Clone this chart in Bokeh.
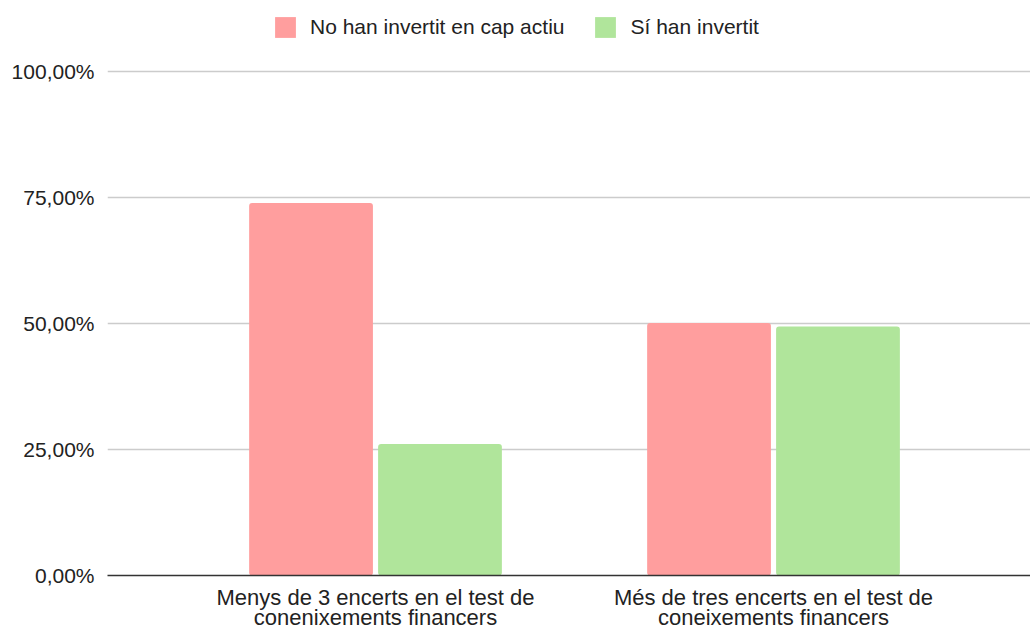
from bokeh.plotting import figure
from bokeh.models import Range1d, FixedTicker, Legend, LegendItem
from bokeh.embed import file_html
from bokeh.resources import INLINE
import numpy as np

categories = ["Menys de 3 encerts en el test de\nconenixements financers",
              "Més de tres encerts en el test de\nconeixements financers"]
series_names = ["No han invertit en cap actiu", "Sí han invertit"]
no_invertit = [73.9, 50.1]
si_invertit = [26.1, 49.4]
y_ticks = [0, 25, 50, 75, 100]
y_labels = ["0,00%", "25,00%", "50,00%", "75,00%", "100,00%"]

RED = "#ff9e9e"
GREEN = "#b0e59b"
TXT = "#222222"
FONT = "Liberation Sans"

xs = np.arange(len(categories))
bw = 0.311
off = 0.162

# frame spans the full top area so the legend can sit inside it
p = figure(frame_width=923, frame_height=575, output_backend="svg",
           toolbar_location=None,
           x_range=Range1d(-0.6734, 1.6457), y_range=Range1d(0, 575 / 5.04),
           min_border_left=107, min_border_right=0, min_border_top=0,
           min_border_bottom=0)
p.outline_line_color = None

r1 = p.vbar(x=xs - off, top=no_invertit, width=bw, fill_color=RED,
            line_color=None, border_radius=3)
r2 = p.vbar(x=xs + off, top=si_invertit, width=bw, fill_color=GREEN,
            line_color=None, border_radius=3)

p.xgrid.grid_line_color = None
p.ygrid.grid_line_color = "#cccccc"
p.ygrid.grid_line_width = 1.3
p.ygrid.ticker = FixedTicker(ticks=y_ticks)

ya = p.yaxis[0]
ya.ticker = FixedTicker(ticks=y_ticks)
ya.major_label_overrides = {t: l for t, l in zip(y_ticks, y_labels)}
ya.axis_line_color = None
ya.major_tick_line_color = None
ya.minor_tick_line_color = None
ya.major_tick_out = 0
ya.major_label_text_font = FONT
ya.major_label_text_font_size = "21px"
ya.major_label_text_color = TXT
ya.major_label_standoff = 13

xa = p.xaxis[0]
xa.ticker = FixedTicker(ticks=list(xs))
xa.major_label_overrides = {int(i): c for i, c in zip(xs, categories)}
xa.axis_line_color = "#333333"
xa.axis_line_width = 1.5
xa.major_tick_line_color = None
xa.minor_tick_line_color = None
xa.major_tick_out = 0
xa.major_label_text_font = FONT
xa.major_label_text_font_size = "22px"
xa.major_label_text_color = TXT
xa.major_label_text_line_height = 0.8
xa.major_label_standoff = 9

legend = Legend(items=[LegendItem(label=series_names[0], renderers=[r1]),
                       LegendItem(label=series_names[1], renderers=[r2])],
                orientation="horizontal", location=(165, 535),
                glyph_width=26, glyph_height=26, label_standoff=12, spacing=28,
                label_text_font=FONT, label_text_font_size="21px",
                label_text_color=TXT, border_line_alpha=0,
                background_fill_alpha=0, padding=0, margin=0)
p.add_layout(legend, "center")

open("out.html", "w").write(file_html(p, INLINE))
